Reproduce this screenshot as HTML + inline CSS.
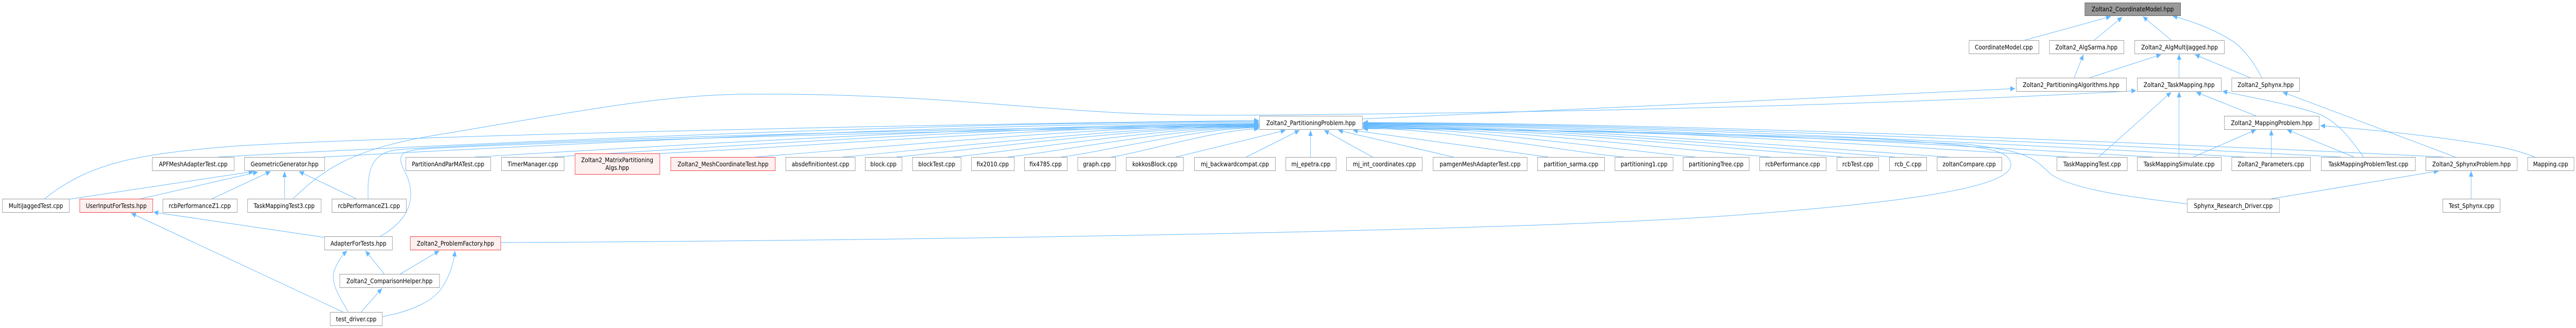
<!DOCTYPE html>
<html><head><meta charset="utf-8"><style>
html,body{margin:0;padding:0;background:#fff;width:100%;height:100%;overflow:hidden;}
svg{display:block;width:100vw;height:100vh;}
text{font-family:"DejaVu Sans","Liberation Sans",sans-serif;font-size:12.5px;fill:#000;text-anchor:middle;}
.n{fill:#fff;stroke:#999;stroke-width:1;}
.r{fill:#fff0f0;stroke:#f04040;stroke-width:1;}
.g{fill:#999;stroke:#666;stroke-width:1;}
.e{fill:none;stroke:#63b8ff;stroke-width:1;marker-end:url(#a);}
</style></head><body>
<svg viewBox="0 0 5893 637" preserveAspectRatio="none" xmlns="http://www.w3.org/2000/svg">
<defs><marker id="a" markerUnits="userSpaceOnUse" markerWidth="12" markerHeight="10" refX="11" refY="5" orient="auto"><path d="M0,0 L11,5 L0,10 z" fill="#63b8ff"/></marker></defs>
<rect width="5893" height="637" fill="#fff"/>
<path class="e" d="M498,305 C974,282 2165,236 2880,236"/>
<path class="e" d="M740,305 C1168,285 2238,238 2880,238"/>
<path class="e" d="M1086,305 C1445,287 2342,240 2880,240"/>
<path class="e" d="M1265,305 C1588,288 2396,241 2880,241"/>
<path class="e" d="M1510,298 C1784,288 2469,242 2880,242"/>
<path class="e" d="M1728,305 C1958,290 2534,243 2880,243"/>
<path class="e" d="M1928,305 C2118,291 2594,244 2880,244"/>
<path class="e" d="M2050,305 C2216,292 2631,245 2880,245"/>
<path class="e" d="M2180,305 C2320,294 2670,246 2880,246"/>
<path class="e" d="M2305,305 C2420,295 2707,247 2880,247"/>
<path class="e" d="M2427,305 C2518,296 2744,248 2880,248"/>
<path class="e" d="M2542,305 C2610,297 2780,252 2880,250"/>
<path class="e" d="M2690,305 L2941,253"/>
<path class="e" d="M2851,305 L2973,253"/>
<path class="e" d="M2998,305 L2998,253"/>
<path class="e" d="M3140,305 L3029,253"/>
<path class="e" d="M3325,305 L3061,253"/>
<path class="e" d="M3542,305 L3095,253"/>
<path class="e" d="M3715,305 C3596,296 3297,249 3118,249"/>
<path class="e" d="M3878,305 C3726,294 3346,247 3118,247"/>
<path class="e" d="M4050,305 C3864,293 3398,246 3118,246"/>
<path class="e" d="M4215,305 C3996,292 3447,245 3118,245"/>
<path class="e" d="M4335,305 C4092,291 3483,244 3118,244"/>
<path class="e" d="M4458,305 C4190,290 3520,243 3118,243"/>
<path class="e" d="M4732,305 C4409,288 3602,242 3118,242"/>
<path class="e" d="M4925,305 C4564,287 3660,241 3118,241"/>
<path class="e" d="M5135,305 C4732,286 3723,240 3118,240"/>
<path class="e" d="M5355,305 C4908,285 3789,239 3118,239"/>
<path class="e" d="M5590,305 C5096,284 3860,238 3118,238"/>
<path class="e" d="M102,386 C200,320 300,300 520,285 S1800,245 2880,234"/>
<path class="e" d="M842,386 C840,330 850,300 900,292 S1900,250 2880,244"/>
<path class="e" d="M870,459 C930,430 955,390 930,340 C905,300 915,295 960,290 S1900,255 2880,246"/>
<path class="e" d="M670,386 C740,330 800,290 1000,262 C1300,220 1500,185 1700,183 C2200,180 2400,225 2800,224 C3500,220 4300,205 4887,176"/>
<path class="e" d="M1145,471 C2000,468 3500,450 4000,416 C4400,390 4610,360 4600,317 C4590,290 4560,285 4300,270 C3800,255 3300,250 3118,250"/>
<path class="e" d="M5003,396 C4900,385 4740,370 4690,337 C4650,305 4640,295 4500,280 C4000,262 3400,250 3118,248"/>
<path class="e" d="M3116,231 C3600,215 4200,185 4610,172"/>
<path class="e" d="M4632,78 L4829,32"/>
<path class="e" d="M4791,78 L4855,33"/>
<path class="e" d="M4967,78 L4902,32"/>
<path class="e" d="M5174,151 C5150,110 5120,85 5100,76 C5060,55 5010,40 4970,31"/>
<path class="e" d="M4745,151 L4766,106"/>
<path class="e" d="M4780,151 L4944,106"/>
<path class="e" d="M4985,151 L4985,105"/>
<path class="e" d="M5148,151 L5021,106"/>
<path class="e" d="M4801,305 L4967,179"/>
<path class="e" d="M4985,305 L4985,178"/>
<path class="e" d="M5161,225 L5024,179"/>
<path class="e" d="M5407,305 C5370,260 5340,232 5300,220 C5230,200 5140,188 5084,177"/>
<path class="e" d="M5617,305 L5222,179"/>
<path class="e" d="M5017,305 L5161,252"/>
<path class="e" d="M5196,305 L5196,252"/>
<path class="e" d="M5385,305 L5232,252"/>
<path class="e" d="M5799,305 C5740,285 5680,280 5627,273 C5520,260 5400,250 5308,244"/>
<path class="e" d="M5196,386 L5579,332"/>
<path class="e" d="M5653,386 L5653,332"/>
<path class="e" d="M158,387 L580,333"/>
<path class="e" d="M322,386 L590,334"/>
<path class="e" d="M485,386 L619,333"/>
<path class="e" d="M651,386 L651,333"/>
<path class="e" d="M815,386 L684,333"/>
<path class="e" d="M742,461 L351,412"/>
<path class="e" d="M785,606 L300,414"/>
<path class="e" d="M797,606 C775,575 755,548 765,525 C772,508 784,495 794,487"/>
<path class="e" d="M826,606 L874,560"/>
<path class="e" d="M879,532 L836,487"/>
<path class="e" d="M916,532 L1005,487"/>
<path class="e" d="M874,615 C940,605 990,585 1010,560 C1030,535 1038,510 1041,487"/>
<rect class="g" x="4769.5" y="5.5" width="219" height="25"/><text x="4879" y="22">Zoltan2_CoordinateModel.hpp</text>
<rect class="n" x="4504.5" y="78.5" width="160" height="26"/><text x="4584" y="96">CoordinateModel.cpp</text>
<rect class="n" x="4688.5" y="78.5" width="170" height="26"/><text x="4773" y="96">Zoltan2_AlgSarma.hpp</text>
<rect class="n" x="4883.5" y="78.5" width="205" height="26"/><text x="4986" y="96">Zoltan2_AlgMultiJagged.hpp</text>
<rect class="n" x="4612.5" y="151.5" width="252" height="26"/><text x="4738" y="169">Zoltan2_PartitioningAlgorithms.hpp</text>
<rect class="n" x="4889.5" y="151.5" width="192" height="26"/><text x="4985" y="169">Zoltan2_TaskMapping.hpp</text>
<rect class="n" x="5105.5" y="151.5" width="155" height="26"/><text x="5183" y="169">Zoltan2_Sphynx.hpp</text>
<rect class="n" x="2881.5" y="225.5" width="235" height="26"/><text x="2999" y="243">Zoltan2_PartitioningProblem.hpp</text>
<rect class="n" x="5088.5" y="225.5" width="217" height="26"/><text x="5197" y="243">Zoltan2_MappingProblem.hpp</text>
<rect class="n" x="348.5" y="305.5" width="187" height="26"/><text x="442" y="323">APFMeshAdapterTest.cpp</text>
<rect class="n" x="559.5" y="305.5" width="183" height="26"/><text x="651" y="323">GeometricGenerator.hpp</text>
<rect class="n" x="928.5" y="305.5" width="194" height="26"/><text x="1025" y="323">PartitionAndParMATest.cpp</text>
<rect class="n" x="1147.5" y="305.5" width="143" height="26"/><text x="1219" y="323">TimerManager.cpp</text>
<rect class="r" x="1315.5" y="298.5" width="194" height="40"/><text x="1412" y="315">Zoltan2_MatrixPartitioning</text><text x="1412" y="330">Algs.hpp</text>
<rect class="r" x="1534.5" y="305.5" width="239" height="26"/><text x="1654" y="323">Zoltan2_MeshCoordinateTest.hpp</text>
<rect class="n" x="1797.5" y="305.5" width="159" height="26"/><text x="1877" y="323">absdefinitiontest.cpp</text>
<rect class="n" x="1979.5" y="305.5" width="84" height="26"/><text x="2021" y="323">block.cpp</text>
<rect class="n" x="2087.5" y="305.5" width="111" height="26"/><text x="2143" y="323">blockTest.cpp</text>
<rect class="n" x="2222.5" y="305.5" width="98" height="26"/><text x="2271" y="323">fix2010.cpp</text>
<rect class="n" x="2343.5" y="305.5" width="98" height="26"/><text x="2392" y="323">fix4785.cpp</text>
<rect class="n" x="2465.5" y="305.5" width="87" height="26"/><text x="2509" y="323">graph.cpp</text>
<rect class="n" x="2576.5" y="305.5" width="131" height="26"/><text x="2642" y="323">kokkosBlock.cpp</text>
<rect class="n" x="2732.5" y="305.5" width="185" height="26"/><text x="2825" y="323">mj_backwardcompat.cpp</text>
<rect class="n" x="2941.5" y="305.5" width="115" height="26"/><text x="2999" y="323">mj_epetra.cpp</text>
<rect class="n" x="3080.5" y="305.5" width="173" height="26"/><text x="3167" y="323">mj_int_coordinates.cpp</text>
<rect class="n" x="3278.5" y="305.5" width="215" height="26"/><text x="3386" y="323">pamgenMeshAdapterTest.cpp</text>
<rect class="n" x="3517.5" y="305.5" width="153" height="26"/><text x="3594" y="323">partition_sarma.cpp</text>
<rect class="n" x="3694.5" y="305.5" width="133" height="26"/><text x="3761" y="323">partitioning1.cpp</text>
<rect class="n" x="3850.5" y="305.5" width="151" height="26"/><text x="3926" y="323">partitioningTree.cpp</text>
<rect class="n" x="4025.5" y="305.5" width="152" height="26"/><text x="4101" y="323">rcbPerformance.cpp</text>
<rect class="n" x="4202.5" y="305.5" width="95" height="26"/><text x="4250" y="323">rcbTest.cpp</text>
<rect class="n" x="4322.5" y="305.5" width="85" height="26"/><text x="4365" y="323">rcb_C.cpp</text>
<rect class="n" x="4431.5" y="305.5" width="148" height="26"/><text x="4505" y="323">zoltanCompare.cpp</text>
<rect class="n" x="4705.5" y="305.5" width="161" height="26"/><text x="4786" y="323">TaskMappingTest.cpp</text>
<rect class="n" x="4889.5" y="305.5" width="192" height="26"/><text x="4985" y="323">TaskMappingSimulate.cpp</text>
<rect class="n" x="5105.5" y="305.5" width="180" height="26"/><text x="5195" y="323">Zoltan2_Parameters.cpp</text>
<rect class="n" x="5310.5" y="305.5" width="215" height="26"/><text x="5418" y="323">TaskMappingProblemTest.cpp</text>
<rect class="n" x="5549.5" y="305.5" width="209" height="26"/><text x="5654" y="323">Zoltan2_SphynxProblem.hpp</text>
<rect class="n" x="5782.5" y="305.5" width="106" height="26"/><text x="5835" y="323">Mapping.cpp</text>
<rect class="n" x="5.5" y="386.5" width="153" height="26"/><text x="82" y="404">MultiJaggedTest.cpp</text>
<rect class="r" x="182.5" y="386.5" width="167" height="26"/><text x="266" y="404">UserInputForTests.hpp</text>
<rect class="n" x="372.5" y="386.5" width="170" height="26"/><text x="457" y="404">rcbPerformanceZ1.cpp</text>
<rect class="n" x="566.5" y="386.5" width="168" height="26"/><text x="650" y="404">TaskMappingTest3.cpp</text>
<rect class="n" x="759.5" y="386.5" width="170" height="26"/><text x="844" y="404">rcbPerformanceZ1.cpp</text>
<rect class="n" x="5003.5" y="386.5" width="211" height="26"/><text x="5109" y="404">Sphynx_Research_Driver.cpp</text>
<rect class="n" x="5588.5" y="386.5" width="131" height="26"/><text x="5654" y="404">Test_Sphynx.cpp</text>
<rect class="n" x="742.5" y="459.5" width="155" height="26"/><text x="820" y="477">AdapterForTests.hpp</text>
<rect class="r" x="938.5" y="459.5" width="207" height="26"/><text x="1042" y="477">Zoltan2_ProblemFactory.hpp</text>
<rect class="n" x="777.5" y="532.5" width="228" height="26"/><text x="891" y="550">Zoltan2_ComparisonHelper.hpp</text>
<rect class="n" x="755.5" y="606.5" width="119" height="26"/><text x="815" y="624">test_driver.cpp</text>
</svg>
</body></html>
